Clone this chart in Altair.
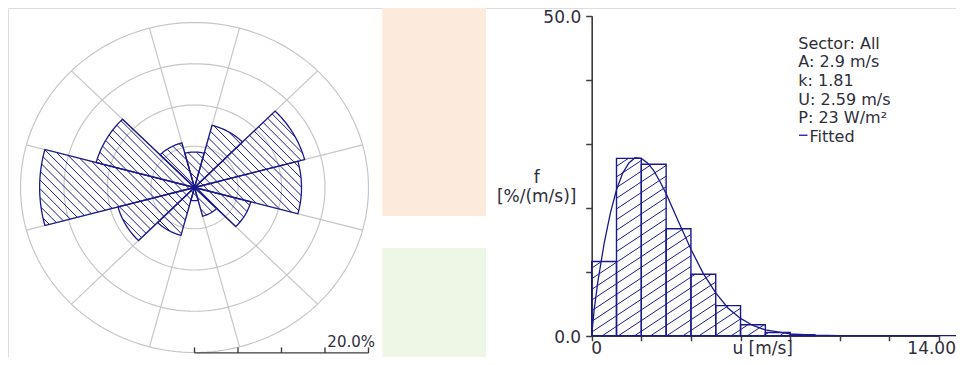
import math
import pandas as pd
import altair as alt

# ---------------- data ----------------
SECTOR_DIRS = [0, 30, 60, 90, 120, 150, 180, 210, 240, 270, 300, 330]
SECTOR_FREQ = [4.3, 7.8, 13.1, 12.3, 6.7, 3.6, 1.6, 6.0, 9.1, 17.8, 11.7, 5.6]
SECTOR_WIDTH = 30
RING_PCT = [5, 10, 15, 20]
SCALE_BAR_TICKS = [0, 5, 10, 15, 20]
SCALE_BAR_LABEL = "20.0%"

BIN_LO = [0, 1, 2, 3, 4, 5, 6, 7, 8]
BIN_HI = [1, 2, 3, 4, 5, 6, 7, 8, 9]
BIN_FREQ = [11.6, 27.7, 26.8, 16.7, 9.6, 4.7, 1.7, 0.5, 0.15]
FIT_U = [0, 0.1, 0.25, 0.5, 0.75, 1.0, 1.25, 1.5, 1.75, 2.0, 2.25, 2.5, 2.75,
         3.0, 3.5, 4.0, 4.5, 5.0, 5.5, 6.0, 6.5, 7.0, 8.0, 9.0, 10.0, 12.0, 15.0]
FIT_F = [0, 4.1, 8.5, 14.4, 19.1, 22.8, 25.4, 27.0, 27.8, 27.7, 27.0, 25.8, 24.1,
         22.2, 17.8, 13.5, 9.7, 6.7, 4.3, 2.7, 1.6, 0.9, 0.3, 0.07, 0.02, 0.0, 0.0]
X_TICKS = [0, 2, 4, 6, 8, 10, 12, 14]
Y_TICKS = [0, 10, 20, 30, 40, 50]
STATS_LINES = ["Sector: All", "A: 2.9 m/s", "k: 1.81", "U: 2.59 m/s", "P: 23 W/m²"]
LEGEND_LABEL = "Fitted"
X_TITLE = "u [m/s]"
Y_TITLE = ["f", "[%/(m/s)]"]

# ---------------- layout / style ----------------
W, H = 948, 349
FONT = "DejaVu Sans"
NAVY = "#1a1a8c"
GRID = "#c6c6c6"
AXIS = "#3c3c3c"
TEXT = "#2e2e3a"

R_MAX = 20
CX, CY = 186.5, 179.5
RX, RY = 174.0, 165.0
SX, SY = RX / R_MAX, RY / R_MAX
ROSE_XS = alt.Scale(domain=[-R_MAX, R_MAX], range=[CX - RX, CX + RX], nice=False, zero=False)
ROSE_YS = alt.Scale(domain=[-R_MAX, R_MAX], range=[CY + RY, CY - RY], nice=False, zero=False)

HX0, HX1, HY0, HY1 = 583.7, 931.0, 327.7, 7.7
HSX = (HX1 - HX0) / 14.0
HSY = (HY0 - HY1) / 50.0
HIST_XS = alt.Scale(domain=[0, 14], range=[HX0, HX1], nice=False, zero=False)
HIST_YS = alt.Scale(domain=[0, 50], range=[HY0, HY1], nice=False, zero=False)


def hatch(poly, angle_deg, spacing, phase=0.0):
    t = math.radians(angle_deg)
    d = (math.cos(t), math.sin(t))
    n = (-d[1], d[0])
    vals = [n[0] * p[0] + n[1] * p[1] for p in poly]
    k0 = math.ceil((min(vals) - phase) / spacing)
    k1 = math.floor((max(vals) - phase) / spacing)
    m = len(poly)
    segs = []
    for k in range(k0, k1 + 1):
        c = phase + k * spacing
        pts = []
        for i in range(m):
            p, q = poly[i], poly[(i + 1) % m]
            sp, sq = vals[i] - c, vals[(i + 1) % m] - c
            if (sp < 0 <= sq) or (sq < 0 <= sp):
                tt = sp / (sp - sq)
                pts.append((p[0] + tt * (q[0] - p[0]), p[1] + tt * (q[1] - p[1])))
        if len(pts) >= 2:
            pr = [pt[0] * d[0] + pt[1] * d[1] for pt in pts]
            if max(pr) - min(pr) > 0.5:
                segs.append((pts[pr.index(min(pr))], pts[pr.index(max(pr))]))
    return segs


# ---------------- wind rose tables ----------------
ring_rows = []
for r in RING_PCT:
    for i in range(0, 361, 2):
        a = math.radians(i)
        ring_rows.append({"ring": r, "i": i, "x": r * math.sin(a), "y": r * math.cos(a)})
rings = pd.DataFrame(ring_rows)

spoke_rows = []
for d in SECTOR_DIRS:
    a = math.radians(d + SECTOR_WIDTH / 2)
    spoke_rows.append({"x": 0.0, "y": 0.0, "x2": R_MAX * math.sin(a), "y2": R_MAX * math.cos(a)})
spokes = pd.DataFrame(spoke_rows)

sector_rows, rose_hatch_rows = [], []
for s, (d, r) in enumerate(zip(SECTOR_DIRS, SECTOR_FREQ)):
    pts = [(0.0, 0.0)]
    for j in range(0, SECTOR_WIDTH + 1):
        a = math.radians(d - SECTOR_WIDTH / 2 + j)
        pts.append((r * math.sin(a), r * math.cos(a)))
    outline = pts + [(0.0, 0.0)]
    for i, (x, y) in enumerate(outline):
        sector_rows.append({"s": s, "i": i, "x": x, "y": y})
    poly_px = [(x * SX, y * SY) for x, y in pts]
    for (a, b) in hatch(poly_px, -45, 6.2, 1.5):
        rose_hatch_rows.append({"x": a[0] / SX, "y": a[1] / SY, "x2": b[0] / SX, "y2": b[1] / SY})
sectors = pd.DataFrame(sector_rows)
rose_hatch = pd.DataFrame(rose_hatch_rows)

BAR_Y = -R_MAX - 0.05
scalebar = pd.DataFrame({"x": [SCALE_BAR_TICKS[0]], "x2": [SCALE_BAR_TICKS[-1]], "y": [BAR_Y]})
scaleticks = pd.DataFrame({"x": SCALE_BAR_TICKS, "y": [BAR_Y] * len(SCALE_BAR_TICKS),
                           "y2": [BAR_Y + 5.5 / SY] * len(SCALE_BAR_TICKS)})

# ---------------- histogram tables ----------------
bars = pd.DataFrame({"lo": BIN_LO, "hi": BIN_HI, "f": BIN_FREQ, "zero": [0.0] * len(BIN_LO)})
hist_hatch_rows = []
for lo, hi, f in zip(BIN_LO, BIN_HI, BIN_FREQ):
    poly = [(lo * HSX, 0.0), (hi * HSX, 0.0), (hi * HSX, f * HSY), (lo * HSX, f * HSY)]
    for (a, b) in hatch(poly, 33.5, 8.9, 3.0):
        hist_hatch_rows.append({"u": a[0] / HSX, "f": a[1] / HSY, "u2": b[0] / HSX, "f2": b[1] / HSY})
hist_hatch = pd.DataFrame(hist_hatch_rows)
fit = pd.DataFrame({"u": FIT_U, "f": FIT_F})

one = pd.DataFrame({"k": [0]})
stat_rows = pd.DataFrame({"line": STATS_LINES, "n": list(range(len(STATS_LINES)))})

# ---------------- axes ----------------
x_axis = alt.Axis(
    orient="bottom", offset=-(H - HY0), values=X_TICKS, title=None, grid=False,
    labelExpr="datum.value == 0 ? '0' : (datum.value == 14 ? '14.00' : '')",
    labelAlign={"condition": {"test": "datum.value == 0", "value": "left"}, "value": "right"},
    labelOffset={"condition": {"test": "datum.value == 14", "value": 16.5}, "value": -1},
    labelFlush=False, labelOverlap=False, labelBound=False,
    labelBaseline="alphabetic", labelPadding=13.2,
    labelFont=FONT, labelFontSize=17, labelColor=TEXT,
    tickSize=5, tickColor=AXIS, tickWidth=1.5, domainColor=AXIS, domainWidth=1.6,
)
y_axis = alt.Axis(
    orient="left", offset=-HX0, values=Y_TICKS, title=None, grid=False,
    labelExpr="datum.value == 0 ? '0.0' : (datum.value == 50 ? '50.0' : '')",
    labelFlush=False, labelOverlap=False, labelPadding=5, labelOffset=2,
    labelFont=FONT, labelFontSize=17, labelColor=TEXT,
    tickSize=6, tickColor=AXIS, tickWidth=1.5, domainColor=AXIS, domainWidth=1.6,
)

# ---------------- backdrop ----------------
bg_top = alt.Chart(one).mark_rect(color="#fcebdc").encode(
    x=alt.value(374.3), x2=alt.value(478), y=alt.value(0), y2=alt.value(208))
bg_bot = alt.Chart(one).mark_rect(color="#eef7e6").encode(
    x=alt.value(374.3), x2=alt.value(478), y=alt.value(240), y2=alt.value(H))

# ---------------- wind rose ----------------
rx = lambda f: alt.X(f, scale=ROSE_XS, axis=None)
ry = lambda f: alt.Y(f, scale=ROSE_YS, axis=None)

ring_layer = alt.Chart(rings).mark_line(color=GRID, strokeWidth=1.2).encode(
    x=rx("x:Q"), y=ry("y:Q"), detail="ring:N", order="i:Q")
spoke_layer = alt.Chart(spokes).mark_rule(color=GRID, strokeWidth=1.2).encode(
    x=rx("x:Q"), y=ry("y:Q"), x2="x2:Q", y2="y2:Q")
hatch_layer = alt.Chart(rose_hatch).mark_rule(color=NAVY, strokeWidth=1.0).encode(
    x=rx("x:Q"), y=ry("y:Q"), x2="x2:Q", y2="y2:Q")
sector_layer = alt.Chart(sectors).mark_line(color=NAVY, strokeWidth=1.3).encode(
    x=rx("x:Q"), y=ry("y:Q"), detail="s:N", order="i:Q")
bar_layer = alt.Chart(scalebar).mark_rule(color=AXIS, strokeWidth=1.4).encode(
    x=rx("x:Q"), x2="x2:Q", y=ry("y:Q"))
tick_layer = alt.Chart(scaleticks).mark_rule(color=AXIS, strokeWidth=1.4).encode(
    x=rx("x:Q"), y=ry("y:Q"), y2="y2:Q")
bar_label = alt.Chart(one).mark_text(
    text=SCALE_BAR_LABEL, font=FONT, fontSize=15, color=TEXT, align="right", baseline="alphabetic"
).encode(x=alt.value(367), y=alt.value(338.5))

rose = alt.layer(ring_layer, spoke_layer, hatch_layer, sector_layer, bar_layer, tick_layer, bar_label)

# ---------------- histogram ----------------
hx = lambda f: alt.X(f, scale=HIST_XS, axis=x_axis)
hy = lambda f: alt.Y(f, scale=HIST_YS, axis=y_axis)

hbars = alt.Chart(bars).mark_rect(filled=False, color=NAVY, strokeWidth=1.4).encode(
    x=hx("lo:Q"), x2="hi:Q", y=hy("f:Q"), y2="zero:Q")
hhatch = alt.Chart(hist_hatch).mark_rule(color=NAVY, strokeWidth=1.0).encode(
    x=hx("u:Q"), x2="u2:Q", y=hy("f:Q"), y2="f2:Q")
hfit = alt.Chart(fit).mark_line(color=NAVY, strokeWidth=1.3).encode(
    x=hx("u:Q"), y=hy("f:Q"))

STAT_FS = 16
STAT_X, STAT_Y0, STAT_DY = 790.3, 40.6, 18.65
stats = alt.Chart(stat_rows).transform_calculate(
    py=f"{STAT_Y0} + datum.n * {STAT_DY}"
).mark_text(
    font=FONT, fontSize=STAT_FS, color=TEXT, align="left", baseline="alphabetic"
).encode(x=alt.value(STAT_X), y=alt.Y("py:Q", scale=None), text="line:N")
FIT_BASE = STAT_Y0 + len(STATS_LINES) * STAT_DY
legend_dash = alt.Chart(one).mark_rule(color=NAVY, strokeWidth=1.3).encode(
    x=alt.value(791), x2=alt.value(799.5), y=alt.value(FIT_BASE - 6.6))
legend_text = alt.Chart(one).mark_text(
    text=LEGEND_LABEL, font=FONT, fontSize=STAT_FS, color=TEXT, align="left", baseline="alphabetic"
).encode(x=alt.value(801.5), y=alt.value(FIT_BASE))
ytitle = alt.Chart(one).mark_text(
    text=Y_TITLE, font=FONT, fontSize=17, lineHeight=19.5, color=TEXT,
    align="center", baseline="alphabetic"
).encode(x=alt.value(528.7), y=alt.value(174.5))
xtitle = alt.Chart(one).mark_text(
    text=X_TITLE, font=FONT, fontSize=17, color=TEXT, align="center", baseline="alphabetic"
).encode(x=alt.value(754.7), y=alt.value(345.9))

hist = alt.layer(hhatch, hbars, hfit, stats, legend_dash, legend_text, ytitle, xtitle)

chart = alt.layer(bg_top, bg_bot, rose, hist).resolve_scale(
    x="independent", y="independent"
).properties(
    width=W, height=H, autosize=alt.AutoSizeParams(type="none"), padding=0
).configure_view(stroke="transparent").configure(background="white")

chart.save("out.html", embed_options={"renderer": "svg", "actions": False})
